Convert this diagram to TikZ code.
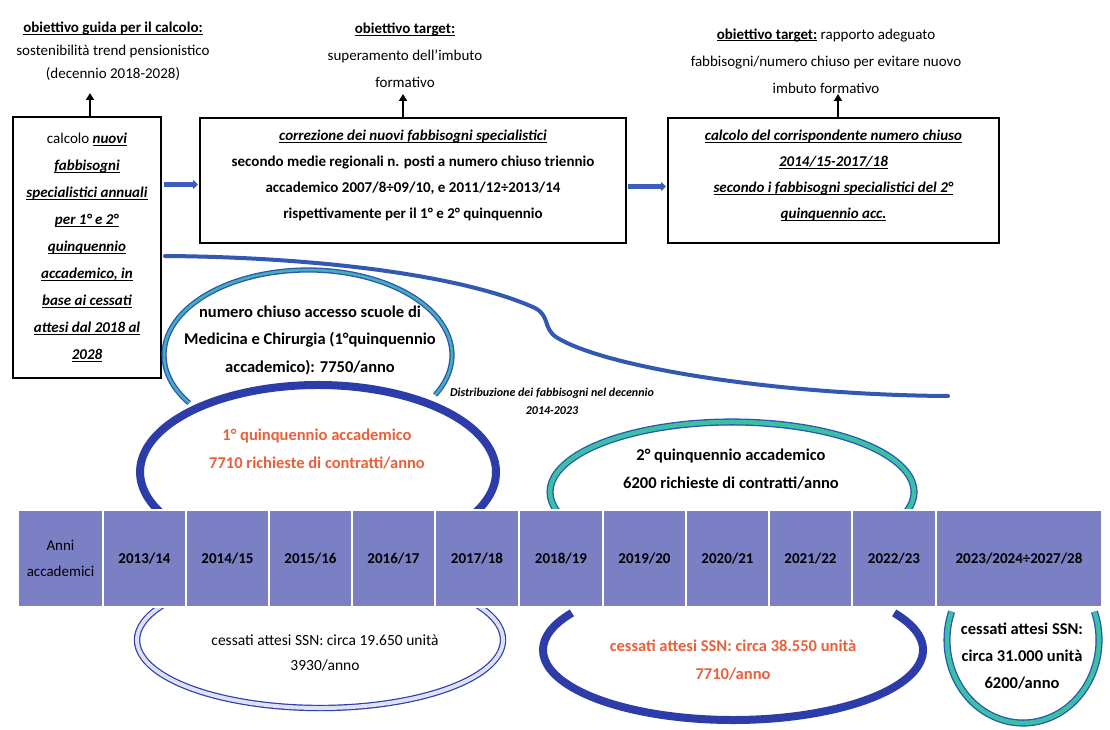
\documentclass[tikz,border=0pt]{standalone}
\usepackage{fontspec}
\setmainfont{Carlito}
\usetikzlibrary{arrows.meta}
\definecolor{cellc}{RGB}{123,127,196}
\definecolor{thickblue}{RGB}{44,60,168}
\definecolor{curveblue}{RGB}{50,88,180}
\definecolor{arrblue}{RGB}{60,92,192}
\definecolor{rimblue}{RGB}{40,86,176}
\definecolor{tealA}{RGB}{72,172,190}
\definecolor{tealB}{RGB}{60,192,165}
\definecolor{lavfill}{RGB}{222,225,246}
\definecolor{redtxt}{RGB}{234,96,58}
\newcommand\ubi[1]{\underline{\smash{\textbf{\textit{#1}}}}}
\newcommand\ubd[1]{\underline{\smash{\textbf{#1}}}}
\begin{document}
\begin{tikzpicture}[x=1pt,y=-1pt,
  every node/.style={inner sep=0pt,outer sep=0pt},
  box/.style={draw=black,line width=2.3pt,align=center},
  note/.style={align=center,font=\fontsize{15}{26}\selectfont},
  etext/.style={align=center,font=\fontsize{16.5}{28}\selectfont\bfseries},
  cell/.style={draw=white,line width=1.2pt,fill=cellc,minimum height=97pt,align=center,font=\fontsize{15}{26}\selectfont\bfseries},
  uparr/.style={-{Triangle[width=8pt,length=7pt]},line width=2.6pt,black},
  bluearr/.style={-{Triangle[width=9pt,length=5pt]},line width=5pt,arrblue},
  thickring/.style={draw=thickblue,line width=8pt},
  tealring/.style={draw=rimblue,double=tealA,line width=1.3pt,double distance=2.6pt},
  greenring/.style={draw=rimblue,double=tealB,line width=1.3pt,double distance=4.5pt},
  lavring/.style={draw=thickblue,double=lavfill,line width=1.2pt,double distance=4pt},
  bigcurve/.style={draw=curveblue,line width=4pt,line cap=round}]
\useasboundingbox (0,0) rectangle (1110,730);
\fill[white] (0,0) rectangle (1110,730);

% top titles
\node[note,font=\fontsize{15}{23}\selectfont] (t1) at (113,57) {\ubd{obiettivo guida per il calcolo:}\\ sostenibilità trend pensionistico\\ (decennio 2018-2028)};
\node[note,font=\fontsize{15}{27}\selectfont] (t2) at (405,61) {\ubd{obiettivo target:}\\ superamento dell’imbuto\\ formativo};
\node[note,font=\fontsize{15}{27}\selectfont] (t3) at (826,61) {\ubd{obiettivo target:} rapporto adeguato\\ fabbisogni/numero chiuso per evitare nuovo\\ imbuto formativo};

% boxes
\node[box,minimum width=148pt,minimum height=261pt,font=\fontsize{15}{27}\selectfont] (b1) at (87,247.5)
 {calcolo \ubi{nuovi}\\ \ubi{fabbisogni}\\ \ubi{specialistici annuali}\\ \ubi{per 1° e 2°}\\ \ubi{quinquennio}\\ \ubi{accademico, in}\\ \ubi{base ai cessati}\\ \ubi{attesi dal 2018 al}\\ \ubi{2028}};
\node[box,minimum width=426pt,minimum height=125pt,font=\fontsize{15}{26}\selectfont\bfseries] (b2) at (413,180.5)
 {\ubi{correzione dei nuovi fabbisogni specialistici}\\ secondo medie regionali n. posti a numero chiuso triennio\\ accademico 2007/8÷09/10, e 2011/12÷2013/14\\ rispettivamente per il 1° e 2° quinquennio};
\node[box,minimum width=331pt,minimum height=125pt,font=\fontsize{15}{26}\selectfont] (b3) at (833.5,180.5)
 {\ubi{calcolo del corrispondente numero chiuso}\\ \ubi{2014/15-2017/18}\\ \ubi{secondo i fabbisogni specialistici del 2°}\\ \ubi{quinquennio acc.}};

% arrows
\draw[uparr] ([xshift=3pt]b1.north) -- ++(0,-24);
\draw[uparr] ([xshift=-10pt]b2.north) -- ++(0,-24);
\draw[uparr] ([xshift=4.5pt]b3.north) -- ++(0,-24);
\draw[bluearr,shorten <=3pt,shorten >=2pt] ([yshift=-4pt]b1.east |- b2.west) -- ([yshift=-4pt]b2.west);
\draw[bluearr,shorten <=2pt,shorten >=2pt] ([yshift=-6pt]b2.east) -- ([yshift=-6pt]b3.west);

% big curve
\coordinate (cA) at (165,256);
\coordinate (cB) at (535,308);
\coordinate (cC) at (556,337);
\coordinate (cD) at (948,396);
\draw[bigcurve] (cA) .. controls (310,257) and (460,274) .. (cB)
  .. controls (550,316) and (543,328) .. (cC)
  .. controls (605,368) and (780,395) .. (cD);

% rings above the table
\draw[tealring] (308,355) ++(28:144 and 85) arc[start angle=28,end angle=-214.4,x radius=144,y radius=85];
\draw[thickring] (318,472) ++(27.4:178 and 87) arc[start angle=27.4,end angle=-207.4,x radius=178,y radius=87];
\draw[greenring] (732,492) ++(16.6:182 and 70) arc[start angle=16.6,end angle=-196.6,x radius=182,y radius=70];

% rings below the table
\draw[lavring] (320,640) ++(-31:183 and 68) arc[start angle=-31,end angle=211,x radius=183,y radius=68];
\draw[thickring] (733,650) ++(-32:190 and 70) arc[start angle=-32,end angle=212,x radius=190,y radius=70];
\draw[greenring] (1023,640) ++(-20:76 and 83) arc[start angle=-20,end angle=200,x radius=76,y radius=83];

% texts in rings
\node[etext,font=\fontsize{16.5}{27.5}\selectfont\bfseries] (n1) at (310,340) {numero chiuso accesso scuole di\\ Medicina e Chirurgia (1°quinquennio\\ accademico): 7750/anno};
\node[etext,text=redtxt] (n2) at (317,449) {1° quinquennio accademico\\ 7710 richieste di contratti/anno};
\node[align=center,font=\fontsize{12}{18}\selectfont\bfseries\itshape] (n3) at (552,401) {Distribuzione dei fabbisogni nel decennio\\ 2014-2023};
\node[etext] (n4) at (731,469) {2° quinquennio accademico\\ 6200 richieste di contratti/anno};
\node[align=center,font=\fontsize{15.5}{25}\selectfont] (n5) at (325,653) {cessati attesi SSN: circa 19.650 unità\\ 3930/anno};
\node[etext,text=redtxt] (n6) at (733,660) {cessati attesi SSN: circa 38.550 unità\\ 7710/anno};
\node[etext,font=\fontsize{16.5}{27}\selectfont\bfseries] (n7) at (1022,656) {cessati attesi SSN:\\ circa 31.000 unità\\ 6200/anno};

% table
\node[cell,minimum width=85pt,font=\fontsize{15}{26}\selectfont] (c0) at (60.5,558.5) {Anni\\ accademici};
\foreach \cx/\w/\lab [count=\i] in {144.5/83/2013\slash 14, 227.5/83/2014\slash 15, 310.5/83/2015\slash 16, 393.5/83/2016\slash 17, 477/84/2017\slash 18, 561/84/2018\slash 19, 644.5/83/2019\slash 20, 727.5/83/2020\slash 21, 810.5/83/2021\slash 22, 894/84/2022\slash 23, 1019/166/2023\slash 2024÷2027\slash 28}
  \node[cell,minimum width=\w pt] (c\i) at (\cx,558.5) {\lab};
\end{tikzpicture}
\end{document}
